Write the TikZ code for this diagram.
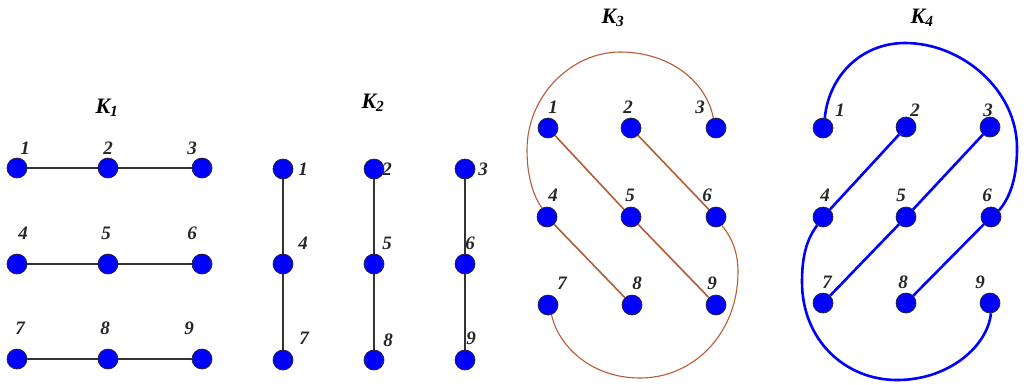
\documentclass[tikz,border=0pt]{standalone}
\usepackage{fontspec}
\setmainfont{Liberation Serif}
\begin{document}
\begin{tikzpicture}[x=1pt,y=-1pt,
  vtx/.style={circle, fill=blue, draw=black!85, line width=0.7pt, minimum size=20pt, inner sep=0pt},
  lbl/.style={font=\fontsize{19}{19}\selectfont\bfseries\itshape, inner sep=0pt, text=black!85},
  ttl/.style={font=\fontsize{22}{22}\selectfont\bfseries\itshape, inner sep=0pt},
  blk/.style={draw=black!80, line width=1.6pt},
  brn/.style={draw={rgb,255:red,182;green,92;blue,52}, line width=1.6pt},
  brc/.style={draw={rgb,255:red,182;green,92;blue,52}, line width=1.1pt},
  blu/.style={draw=blue, line width=2.6pt}]
\useasboundingbox (0,0) rectangle (1027,384);

% ---------- K1 ----------
\node[ttl] (t1) at (107,108) {K\textsubscript{1}};
\node[vtx] (a1) at (17,168) {};
\node[vtx] (a2) at (108,168) {};
\node[vtx] (a3) at (202,168) {};
\node[vtx] (a4) at (17,264) {};
\node[vtx] (a5) at (108,264) {};
\node[vtx] (a6) at (202,264) {};
\node[vtx] (a7) at (17,359) {};
\node[vtx] (a8) at (108,359) {};
\node[vtx] (a9) at (202,359) {};
\node[lbl] (la1) at (25,148) {1};
\node[lbl] (la2) at (108,148) {2};
\node[lbl] (la3) at (192,148) {3};
\node[lbl] (la4) at (23,233) {4};
\node[lbl] (la5) at (106,233) {5};
\node[lbl] (la6) at (192,233) {6};
\node[lbl] (la7) at (20,328) {7};
\node[lbl] (la8) at (105,328) {8};
\node[lbl] (la9) at (189,328) {9};
\draw[blk] (a1) -- (a2); \draw[blk] (a2) -- (a3);
\draw[blk] (a4) -- (a5); \draw[blk] (a5) -- (a6);
\draw[blk] (a7) -- (a8); \draw[blk] (a8) -- (a9);

% ---------- K2 ----------
\node[ttl] (t2) at (373,103) {K\textsubscript{2}};
\node[vtx] (b1) at (283,169) {};
\node[vtx] (b2) at (374,169) {};
\node[vtx] (b3) at (465,169) {};
\node[vtx] (b4) at (283,264) {};
\node[vtx] (b5) at (374,264) {};
\node[vtx] (b6) at (465,264) {};
\node[vtx] (b7) at (283,360) {};
\node[vtx] (b8) at (374,360) {};
\node[vtx] (b9) at (465,360) {};
\node[lbl] (lb1) at (303,169) {1};
\node[lbl] (lb2) at (387,169) {2};
\node[lbl] (lb3) at (483,169) {3};
\node[lbl] (lb4) at (303,243) {4};
\node[lbl] (lb5) at (387,243) {5};
\node[lbl] (lb6) at (470,243) {6};
\node[lbl] (lb7) at (304,338) {7};
\node[lbl] (lb8) at (388,340) {8};
\node[lbl] (lb9) at (471,338) {9};
\draw[blk] (b1) -- (b4); \draw[blk] (b4) -- (b7);
\draw[blk] (b2) -- (b5); \draw[blk] (b5) -- (b8);
\draw[blk] (b3) -- (b6); \draw[blk] (b6) -- (b9);

% ---------- K3 ----------
\node[ttl] (t3) at (613,18) {K\textsubscript{3}};
\node[vtx] (c1) at (548,128) {};
\node[vtx] (c2) at (631,128) {};
\node[vtx] (c3) at (716,128) {};
\node[vtx] (c4) at (547,217) {};
\node[vtx] (c5) at (631,217) {};
\node[vtx] (c6) at (716,217) {};
\node[vtx] (c7) at (548,305) {};
\node[vtx] (c8) at (632,305) {};
\node[vtx] (c9) at (716,305) {};
\node[lbl] (lc1) at (553,107) {1};
\node[lbl] (lc2) at (628,107) {2};
\node[lbl] (lc3) at (700,107) {3};
\node[lbl] (lc4) at (553,195) {4};
\node[lbl] (lc5) at (630,195) {5};
\node[lbl] (lc6) at (707,195) {6};
\node[lbl] (lc7) at (562,283) {7};
\node[lbl] (lc8) at (637,283) {8};
\node[lbl] (lc9) at (712,283) {9};
\draw[brn] (c1) -- (c5); \draw[brn] (c5) -- (c9);
\draw[brn] (c2) -- (c6); \draw[brn] (c4) -- (c8);
\draw[brc] (c3.105) .. controls (706,80) and (668,52) .. (620,52)
  .. controls (572,52) and (527,95) .. (527,150)
  .. controls (527,180) and (535,198) .. (c4.120);
\draw[brc] (c6.-55) .. controls (732,238) and (738,252) .. (738,272)
  .. controls (738,332) and (695,378) .. (640,378)
  .. controls (590,378) and (558,345) .. (c7.-70);

% ---------- K4 ----------
\node[ttl] (t4) at (922,18) {K\textsubscript{4}};
\node[vtx] (d1) at (823,128) {};
\node[vtx] (d2) at (906,127) {};
\node[vtx] (d3) at (990,127) {};
\node[vtx] (d4) at (823,217) {};
\node[vtx] (d5) at (906,217) {};
\node[vtx] (d6) at (991,217) {};
\node[vtx] (d7) at (823,303) {};
\node[vtx] (d8) at (906,303) {};
\node[vtx] (d9) at (990,303) {};
\node[lbl] (ld1) at (840,110) {1};
\node[lbl] (ld2) at (915,110) {2};
\node[lbl] (ld3) at (988,110) {3};
\node[lbl] (ld4) at (825,195) {4};
\node[lbl] (ld5) at (901,195) {5};
\node[lbl] (ld6) at (987,195) {6};
\node[lbl] (ld7) at (827,282) {7};
\node[lbl] (ld8) at (903,282) {8};
\node[lbl] (ld9) at (980,282) {9};
\draw[blu] (d2) -- (d4); \draw[blu] (d3) -- (d5);
\draw[blu] (d5) -- (d7); \draw[blu] (d6) -- (d8);
\draw[blu] (d1.80) .. controls (829,75) and (862,43) .. (905,43)
  .. controls (962,43) and (1017,90) .. (1017,148)
  .. controls (1017,182) and (1008,200) .. (d6.40);
\draw[blu] (d4.-125) .. controls (806,240) and (802,258) .. (802,282)
  .. controls (802,340) and (845,380) .. (897,380)
  .. controls (950,380) and (988,345) .. (d9.-85);
\end{tikzpicture}
\end{document}
